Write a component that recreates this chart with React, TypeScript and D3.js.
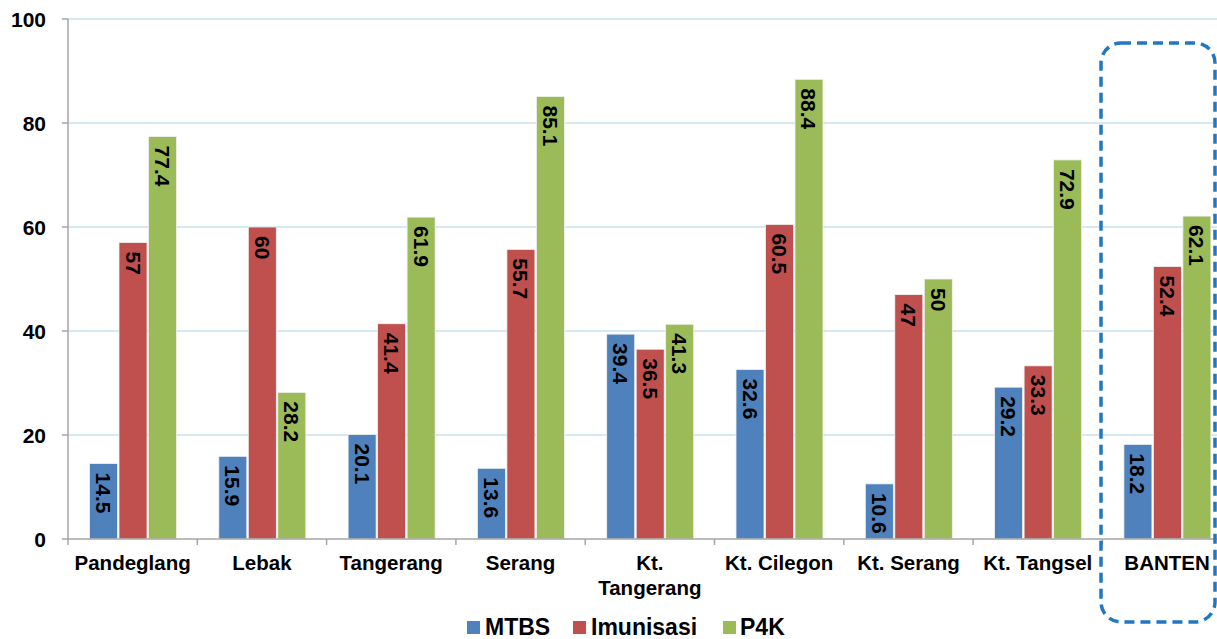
import React from "react";
import * as d3 from "d3";

const categories: string[][] = [
  ["Pandeglang"],
  ["Lebak"],
  ["Tangerang"],
  ["Serang"],
  ["Kt.", "Tangerang"],
  ["Kt. Cilegon"],
  ["Kt. Serang"],
  ["Kt. Tangsel"],
  ["BANTEN"],
];
const seriesNames = ["MTBS", "Imunisasi", "P4K"];
const mtbs = [14.5, 15.9, 20.1, 13.6, 39.4, 32.6, 10.6, 29.2, 18.2];
const imunisasi = [57, 60, 41.4, 55.7, 36.5, 60.5, 47, 33.3, 52.4];
const p4k = [77.4, 28.2, 61.9, 85.1, 41.3, 88.4, 50, 72.9, 62.1];
const yTicks = [0, 20, 40, 60, 80, 100];
const colors = ["#4f81bd", "#c0504d", "#9bbb59"];

const W = 1217;
const H = 639;
const FONT = "'Liberation Sans', Arial, sans-serif";

export default function App() {
  const series = [mtbs, imunisasi, p4k];
  const left = 68;
  const bandW = 129.3;
  const x0 = d3
    .scaleBand<number>()
    .domain(d3.range(categories.length))
    .range([left, left + bandW * categories.length])
    .paddingInner(0)
    .paddingOuter(0);
  const x1 = d3
    .scaleBand<number>()
    .domain(d3.range(series.length))
    .range([21.5, 21.5 + 87])
    .paddingInner(0.05);
  const y = d3.scaleLinear().domain([0, 100]).range([539, 19]);

  const legendItems = [
    { sx: 467, tx: 485 },
    { sx: 573, tx: 591 },
    { sx: 723, tx: 740 },
  ];

  return (
    <svg
      width={W}
      height={H}
      style={{ position: "absolute", left: 0, top: 0, background: "#fff" }}
      fontFamily={FONT}
    >
      {/* gridlines */}
      {yTicks
        .filter((t) => t > 0)
        .map((t) => (
          <line
            key={"g" + t}
            x1={left}
            x2={W}
            y1={y(t)}
            y2={y(t)}
            stroke="#c9e1ec"
            strokeWidth={1.5}
          />
        ))}
      {/* y axis */}
      <line x1={left} x2={left} y1={y(100)} y2={y(0)} stroke="#a6a6a6" strokeWidth={1.5} />
      {yTicks.map((t) => (
        <g key={"yt" + t}>
          <line x1={left - 6} x2={left} y1={y(t)} y2={y(t)} stroke="#a6a6a6" strokeWidth={1.5} />
          <text
            x={46}
            y={y(t)}
            dy="0.36em"
            textAnchor="end"
            fontSize={21}
            fontWeight="bold"
            fill="#000"
          >
            {t}
          </text>
        </g>
      ))}
      {/* bars */}
      {categories.map((_, i) => (
        <g key={"c" + i} transform={`translate(${x0(i)},0)`}>
          {series.map((s, k) => {
            const v = s[i];
            const bx = x1(k)!;
            const bw = x1.bandwidth();
            return (
              <g key={k}>
                <rect
                  x={bx}
                  y={y(v)}
                  width={bw}
                  height={y(0) - y(v)}
                  fill={colors[k]}
                  stroke="#f2f2f2"
                  strokeWidth={0.8}
                />
                <text
                  transform={`translate(${bx + bw / 2},${y(v) + 9}) rotate(90)`}
                  dominantBaseline="central"
                  fontSize={21}
                  fontWeight="bold"
                  fill="#000"
                >
                  {v}
                </text>
              </g>
            );
          })}
        </g>
      ))}
      {/* x axis */}
      <line x1={left} x2={W} y1={y(0)} y2={y(0)} stroke="#a6a6a6" strokeWidth={1.5} />
      {d3.range(categories.length + 1).map((i) => (
        <line
          key={"xt" + i}
          x1={left + bandW * i}
          x2={left + bandW * i}
          y1={y(0)}
          y2={y(0) + 6}
          stroke="#a6a6a6"
          strokeWidth={1.5}
        />
      ))}
      {categories.map((lines, i) => (
        <text
          key={"cl" + i}
          x={x0(i)! + bandW / 2}
          y={570}
          textAnchor="middle"
          fontSize={20.5}
          fontWeight="bold"
          fill="#000"
        >
          {lines.map((ln, j) => (
            <tspan key={j} x={x0(i)! + bandW / 2} dy={j === 0 ? 0 : 25}>
              {ln}
            </tspan>
          ))}
        </text>
      ))}
      {/* legend */}
      {seriesNames.map((name, k) => (
        <g key={"lg" + k}>
          <rect
            x={legendItems[k].sx}
            y={621}
            width={13}
            height={13}
            fill={colors[k]}
          />
          <text
            x={legendItems[k].tx}
            y={634.5}
            fontSize={23}
            fontWeight="bold"
            fill="#000"
          >
            {name}
          </text>
        </g>
      ))}
      {/* highlight around the province total */}
      <rect
        x={1101}
        y={43}
        width={114}
        height={579}
        rx={20}
        ry={20}
        fill="none"
        stroke="#1f78c1"
        strokeWidth={3.5}
        strokeDasharray="10 6"
      />
    </svg>
  );
}
